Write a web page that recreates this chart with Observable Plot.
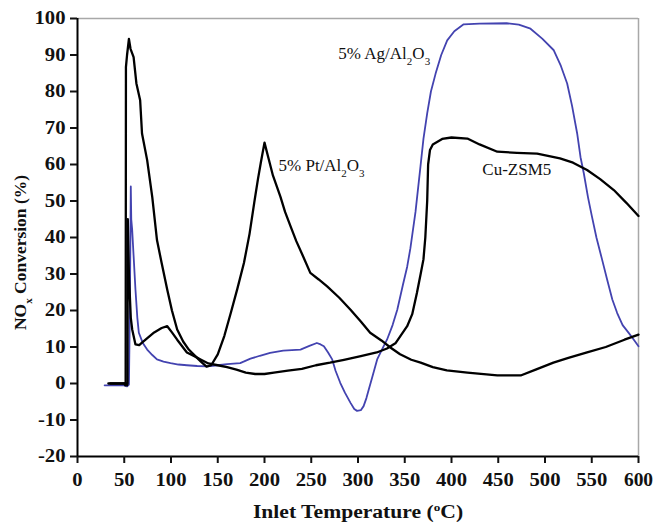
<!DOCTYPE html>
<html>
<head>
<meta charset="utf-8">
<script src="https://cdn.jsdelivr.net/npm/d3@7"></script>
<script src="https://cdn.jsdelivr.net/npm/@observablehq/plot@0.6"></script>
<style>
  html, body { margin: 0; padding: 0; background: #fff; }
  #chart svg { display: block; }
  #chart g[aria-label="x-axis tick"] path, #chart g[aria-label="y-axis tick"] path { stroke-width: 2; }
</style>
</head>
<body>
<div id="chart"></div>
<script>
// ---- Data ----
const xTicks = [0, 50, 100, 150, 200, 250, 300, 350, 400, 450, 500, 550, 600];
const yTicks = [-20, -10, 0, 10, 20, 30, 40, 50, 60, 70, 80, 90, 100];

// 5% Pt/Al2O3 (black)
const ptTemp = [33, 50, 51, 51.5, 51.8, 53, 55, 56.7, 60, 63, 67, 69, 74.5, 80, 85, 90, 96, 101, 106.6, 113, 119, 126, 132, 138, 143, 150, 157, 164, 171, 178, 184, 189, 193, 196, 200, 204, 209, 217, 222, 228, 234, 241, 249, 258, 267, 280, 292, 303, 313, 325, 335, 345, 357, 367, 380, 395, 417, 449, 474, 490, 509, 525, 545, 565, 585, 600];
const ptConv = [0, 0, -0.5, 0, 86.7, 90, 94.4, 91.7, 89.4, 82.2, 77.6, 68.5, 61.2, 51, 39.3, 33, 25.7, 20, 14.8, 11.5, 9.3, 7.5, 6, 4.6, 5, 8, 13, 19.4, 26, 33, 41, 49.5, 56, 60.4, 66, 62, 57, 51.2, 47, 43, 39, 35, 30.3, 28.5, 26.6, 23.5, 20.2, 17, 13.9, 11.8, 9.8, 8, 6.5, 5.7, 4.5, 3.6, 3.0, 2.2, 2.2, 3.8, 5.7, 7, 8.5, 10, 12, 13.4];

// Cu-ZSM5 (black)
const cuTemp = [35, 52, 53, 53.5, 53.8, 55, 57, 58.5, 62, 66, 69, 75, 82, 90, 96, 101, 106.6, 117, 125, 131.6, 140, 150, 160, 170, 180, 190, 200, 210, 225, 240, 255, 270, 285, 303, 320, 331, 340, 352.6, 358, 363, 367, 370, 372, 374, 375, 377, 380, 390, 400, 417, 430, 449, 470, 491.6, 516, 530, 545, 559, 573.6, 587, 600];
const cuConv = [0, 0, -0.5, 0, 45, 30, 18, 14.8, 10.7, 10.5, 11.2, 12.5, 14, 15.2, 15.7, 14, 12, 8.5, 7.5, 6.6, 5.5, 5, 4.5, 3.8, 3, 2.6, 2.6, 3, 3.5, 4, 5, 5.7, 6.5, 7.5, 8.5, 9.6, 11, 15.7, 19, 24.8, 30, 34, 40, 50, 60, 64, 65.5, 67, 67.4, 67.1, 65.5, 63.5, 63.2, 63, 61.7, 60.5, 58.5, 56, 53, 49.5, 45.9];

// 5% Ag/Al2O3 (blue)
const agTemp = [29, 50, 53, 55, 56, 57, 57.5, 58.5, 60, 62, 64, 65.6, 70, 74.5, 80, 85, 92, 99.5, 108, 117, 128, 138.7, 150, 160, 174, 185, 195, 206, 220, 238.5, 248, 256, 260, 263.5, 268, 272.4, 276, 281, 286, 292, 296, 299, 303, 306, 309, 311.6, 315, 320.5, 326, 331, 337, 342, 348, 352.6, 356, 361.5, 366.8, 370, 374, 378, 383, 389, 395.4, 403, 413, 430, 459, 472, 484.5, 497, 509.4, 517, 523.7, 529, 534.4, 538, 541.5, 546, 550, 555, 561, 566.5, 572, 577.2, 583, 589.7, 595, 600];
const agConv = [-0.5, -0.5, -0.8, -0.3, 20, 54, 45, 42, 35, 25.7, 18, 13.9, 11, 9.3, 7.8, 6.6, 6, 5.6, 5.2, 5.0, 4.8, 4.7, 5, 5.3, 5.6, 6.8, 7.6, 8.4, 9, 9.3, 10.3, 11.1, 10.7, 10.2, 8.5, 6.6, 3.5, 0.2, -2.5, -5.3, -7, -7.5, -7.3, -6.2, -4, -1.6, 1.5, 6.6, 9.5, 12, 16, 20.2, 27, 32, 37, 47, 59.4, 67, 74, 80, 84.9, 90, 94, 96.5, 98.4, 98.6, 98.7, 98.3, 97.2, 94.5, 91.3, 87, 82.2, 76, 68.5, 62, 57.6, 51, 46, 40, 34, 28.4, 23, 19.3, 16, 13.8, 12, 10.2];

// Curve labels ( _c = subscript char, ^c = superscript char )
const labelNames = ["5% Ag/Al_2O_3", "5% Pt/Al_2O_3", "Cu-ZSM5"];
const labelTemp = [279, 215, 433];
const labelConv = [90.4, 59.6, 58.5];

const xTitle = "Inlet Temperature (^oC)";
const yTitle = "NO_x Conversion (%)";

// ---- Build tables ----
const toRows = (xs, ys) => xs.map((x, i) => ({x, y: ys[i]}));
const pt = toRows(ptTemp, ptConv);
const cu = toRows(cuTemp, cuConv);
const ag = toRows(agTemp, agConv);
const labels = labelNames.map((t, i) => ({t, x: labelTemp[i], y: labelConv[i]}));

const blue = "#4343b0";
const font = "'Liberation Serif', 'Times New Roman', serif";

const chart = Plot.plot({
  width: 653,
  height: 525,
  marginLeft: 77,
  marginRight: 15,
  marginTop: 18,
  marginBottom: 69,
  style: {fontFamily: font, background: "#fff", color: "#111"},
  x: {domain: [0, 600], label: null},
  y: {domain: [-20, 100], label: null},
  marks: [
    Plot.ruleY([100], {stroke: "#a8a8a8", strokeWidth: 1.5}),
    Plot.ruleX([600], {stroke: "#a8a8a8", strokeWidth: 1.5}),
    Plot.line(ag, {x: "x", y: "y", stroke: blue, strokeWidth: 1.8}),
    Plot.line(pt, {x: "x", y: "y", stroke: "#000", strokeWidth: 2.3}),
    Plot.line(cu, {x: "x", y: "y", stroke: "#000", strokeWidth: 2.3}),
    Plot.ruleX([0], {stroke: "#000", strokeWidth: 2}),
    Plot.ruleY([-20], {stroke: "#000", strokeWidth: 2}),
    Plot.axisX({ticks: xTicks, tickSize: 7, tickPadding: 10, fontSize: 18, fontWeight: "bold", label: null, tickFormat: d => String(d)}),
    Plot.axisY({ticks: yTicks, tickSize: 7, tickPadding: 5, fontSize: 18, fontWeight: "bold", label: null, tickFormat: d => String(d)}),
    Plot.text(labels, {x: "x", y: "y", text: "t", textAnchor: "start", fontSize: 17, fill: "#111"}),
    Plot.text([xTitle], {frameAnchor: "bottom", textAnchor: "middle", lineAnchor: "middle", dy: 56, fontSize: 18, fontWeight: "bold", fill: "#111"}),
    Plot.text([yTitle], {frameAnchor: "left", textAnchor: "middle", lineAnchor: "middle", dx: -57, dy: 15, rotate: -90, fontSize: 17.5, fontWeight: "bold", fill: "#111"})
  ]
});

// Turn _c / ^c markers into sub/superscript tspans
const NS = "http://www.w3.org/2000/svg";
chart.querySelectorAll("text").forEach(t => {
  const s = t.textContent;
  if (!/[_^]/.test(s)) return;
  while (t.firstChild) t.removeChild(t.firstChild);
  let i = 0, buf = "", shift = 0;
  const flush = () => { if (buf) { const sp = document.createElementNS(NS, "tspan"); sp.setAttribute("dy", -shift); sp.textContent = buf; t.appendChild(sp); shift = 0; buf = ""; } };
  while (i < s.length) {
    const c = s[i];
    if ((c === "_" || c === "^") && i + 1 < s.length) {
      flush();
      const d = c === "_" ? 6 : -7;
      const sp = document.createElementNS(NS, "tspan");
      sp.setAttribute("dy", d - shift);
      sp.setAttribute("font-size", "11");
      sp.textContent = s[i + 1];
      t.appendChild(sp);
      shift = d;
      i += 2;
    } else { buf += c; i++; }
  }
  if (buf) { const sp = document.createElementNS(NS, "tspan"); sp.setAttribute("dy", -shift); sp.textContent = buf; t.appendChild(sp); }
});

document.getElementById("chart").appendChild(chart);

// Widen the axis tick labels and x title horizontally like the reference typeface
function widen(t, k) {
  const len = t.getComputedTextLength();
  if (len > 0) {
    t.setAttribute("textLength", (len * k).toFixed(1));
    t.setAttribute("lengthAdjust", "spacingAndGlyphs");
  }
}
chart.querySelectorAll("text").forEach(t => {
  const s = t.textContent.trim();
  if (/^-?\d+$/.test(s)) widen(t, s === "600" ? 1.08 : 1.15);
  else if (s.startsWith("Inlet")) widen(t, 1.2);
});
</script>
</body>
</html>
